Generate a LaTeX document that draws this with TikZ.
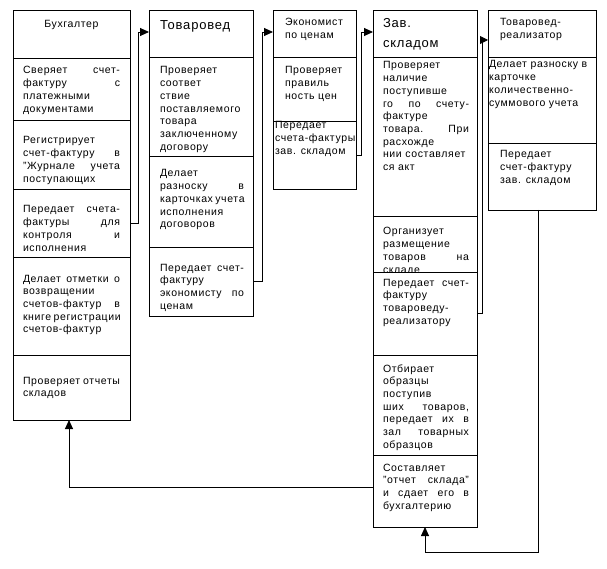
\documentclass[tikz,border=0pt]{standalone}
\usepackage{fontspec}
\setmainfont{Liberation Sans}[LetterSpace=6]
\usetikzlibrary{arrows.meta}
\newlength\cw
\newcommand\Tl[1]{\hbox to\cw{#1\hss}}
\newcommand\Tj[1]{\hbox to\cw{\makebox[\cw][s]{#1}}}
\newcommand\Tc[1]{\hbox to\cw{\hss#1\hss}}
\newcommand\sm{\fontsize{10.5}{12.7}\selectfont}
\newcommand\bg{\fontsize{13}{20}\selectfont}
\tikzset{
  cellbox/.style={draw, line width=0.9pt, inner sep=0pt, outer sep=0pt, anchor=north west},
  txt/.style={anchor=base west, inner sep=0pt, outer sep=0pt},
  conn/.style={draw, line width=0.9pt, -{Triangle[length=9pt,width=8pt]}}
}
\newcommand\celltxt[6]{\node[txt] (#1) at (#2,#3) {#5\setlength\cw{#4pt}\vtop{#6}};}
\newcommand\mkcell[5]{\node[cellbox, minimum width={(#4-#2)*1pt}, minimum height={(#5-#3)*1pt}] (#1) at (#2,#3) {};}
\begin{document}
\begin{tikzpicture}[x=1pt,y=-1pt]
\path[fill=white] (0,0) rectangle (607,569);
\useasboundingbox (0,0) rectangle (607,569);
% column 1
\mkcell{a1}{13}{10}{130}{58}
\mkcell{a2}{13}{58}{130}{120}
\mkcell{a3}{13}{120}{130}{189}
\mkcell{a4}{13}{189}{130}{257}
\mkcell{a5}{13}{257}{130}{355}
\mkcell{a6}{13}{355}{130}{420}
% column 2
\mkcell{b1}{149}{10}{253}{57}
\mkcell{b2}{149}{57}{253}{156}
\mkcell{b3}{149}{156}{253}{247}
\mkcell{b4}{149}{247}{253}{316}
% column 3
\mkcell{c1}{273}{10}{356}{57}
\mkcell{c2}{273}{57}{356}{121}
\mkcell{c3}{273}{121}{356}{189}
% column 4
\mkcell{d1}{373}{10}{477}{57}
\mkcell{d2}{373}{57}{477}{216}
\mkcell{d3}{373}{216}{477}{272}
\mkcell{d4}{373}{272}{477}{355}
\mkcell{d5}{373}{355}{477}{455}
\mkcell{d6}{373}{455}{477}{527}
% column 5
\mkcell{e1}{488}{10}{596}{57}
\mkcell{e2}{488}{57}{596}{143}
\mkcell{e3}{488}{143}{596}{210}
% texts column 1
\celltxt{ta1}{23}{28}{97}{\sm}{\Tc{Бухгалтер}}
\celltxt{ta2}{23}{74}{97}{\sm}{\Tj{Сверяет счет-}\Tj{фактуру с}\Tl{платежными}\Tl{документами}}
\celltxt{ta3}{23}{144}{97}{\sm}{\Tl{Регистрирует}\Tj{счет-фактуру в}\Tj{"Журнале учета}\Tl{поступающих}}
\celltxt{ta4}{23}{213}{97}{\sm}{\Tj{Передает счета-}\Tj{фактуры для}\Tj{контроля и}\Tl{исполнения}}
\celltxt{ta5}{23}{282}{97}{\sm}{\Tj{Делает отметки о}\Tl{возвращении}\Tj{счетов-фактур в}\Tj{книге регистрации}\Tl{счетов-фактур}}
\celltxt{ta6}{23}{384}{97}{\sm}{\Tj{Проверяет отчеты}\Tl{складов}}
% texts column 2
\celltxt{tb1}{160}{30}{84}{\bg}{\Tl{Товаровед}}
\celltxt{tb2}{160}{74}{84}{\sm}{\Tl{Проверяет}\Tl{соответ}\Tl{ствие}\Tl{поставляемого}\Tl{товара}\Tl{заключенному}\Tl{договору}}
\celltxt{tb3}{160}{177}{84}{\sm}{\Tl{Делает}\Tj{разноску в}\Tj{карточках учета}\Tl{исполнения}\Tl{договоров}}
\celltxt{tb4}{160}{271}{84}{\sm}{\Tj{Передает счет-}\Tl{фактуру}\Tj{экономисту по}\Tl{ценам}}
% texts column 3
\celltxt{tc1}{285}{26}{70}{\sm}{\Tl{Экономист}\Tl{по ценам}}
\celltxt{tc2}{285}{74}{70}{\sm}{\Tl{Проверяет}\Tl{правиль}\Tl{ность цен}}
\celltxt{tc3}{275}{129}{80}{\sm}{\Tl{Передает}\Tl{счета-фактуры}\Tl{зав. складом}}
% texts column 4
\celltxt{td1}{383}{28}{86}{\bg}{\Tl{Зав.}\Tl{складом}}
\celltxt{td2}{383}{69}{86}{\sm}{\Tl{Проверяет}\Tl{наличие}\Tl{поступивше}\Tj{го по счету-}\Tl{фактуре}\Tj{товара. При}\Tl{расхожде}\Tl{нии составляет}\Tl{ся акт}}
\begin{scope}
\clip (373,216) rectangle (477,271.5);
\celltxt{td3}{383}{235}{86}{\sm}{\Tl{Организует}\Tl{размещение}\Tj{товаров на}\Tl{складе}}
\end{scope}
\celltxt{td4}{383}{286}{86}{\sm}{\Tj{Передает счет-}\Tl{фактуру}\Tl{товароведу-}\Tl{реализатору}}
\celltxt{td5}{383}{372}{86}{\sm}{\Tl{Отбирает}\Tl{образцы}\Tl{поступив}\Tj{ших товаров,}\Tj{передает их в}\Tj{зал товарных}\Tl{образцов}}
\celltxt{td6}{383}{471}{86}{\sm}{\Tl{Составляет}\Tj{"отчет склада"}\Tj{и сдает его в}\Tl{бухгалтерию}}
% texts column 5
\celltxt{te1}{500}{26}{90}{\sm}{\Tl{Товаровед-}\Tl{реализатор}}
\celltxt{te2}{489}{68}{106}{\sm}{\Tl{Делает разноску в}\Tl{карточке}\Tl{количественно-}\Tl{суммового учета}}
\celltxt{te3}{500}{158}{90}{\sm}{\Tl{Передает}\Tl{счет-фактуру}\Tl{зав. складом}}
% connectors
\draw[conn] (a4.east) -- ++(8,0) |- ([yshift=1.5pt]b1.west);
\draw[conn] (b4.east) -- ++(9,0) |- ([yshift=1.5pt]c1.west);
\draw[conn] (c3.east) -- ++(5,0) |- ([yshift=1.5pt]d1.west);
\draw[line width=0.9pt, -{Triangle[length=8pt,width=8pt]}] (d4.east) -- ++(5,0) |- ([yshift=-6.5pt]e1.west);
\draw[conn] ([xshift=-4pt]e3.south) -- ++(0,342) -| (d6.south);
\draw[conn] ([yshift=4pt]d6.west) -| ([xshift=-2.5pt]a6.south);
\end{tikzpicture}
\end{document}
